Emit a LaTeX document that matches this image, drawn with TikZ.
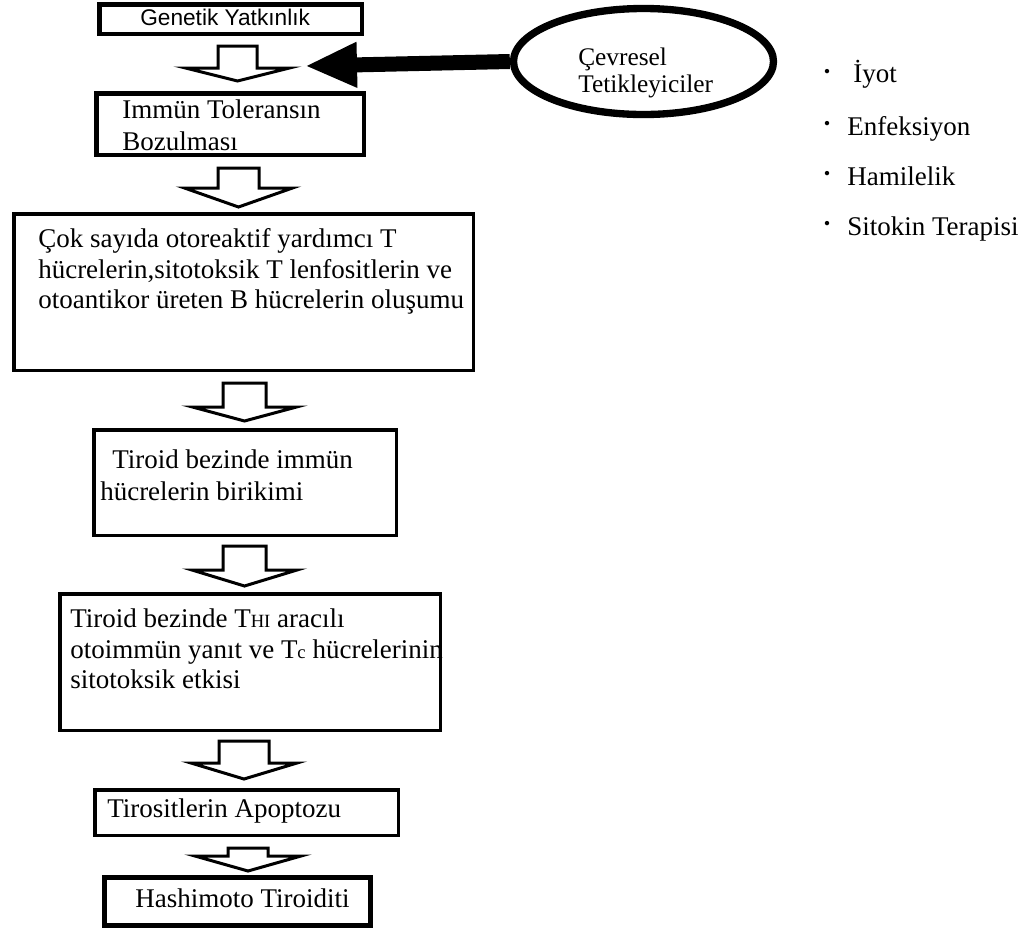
\documentclass[tikz,border=0pt]{standalone}
\usepackage{fontspec}
\setmainfont{Liberation Serif}
\newfontfamily\arialf{Liberation Sans}
\usetikzlibrary{arrows.meta,shapes.geometric,fit}
\newcommand\smc[1]{{\fontsize{14}{16}\selectfont #1}}
\newcommand\hollowarr[6]{%
  \draw[hollow] (#1-#2,#3) -- (#1+#2,#3) -- (#1+#2,#4) -- (#1+#5,#4) -- (#1,#6) -- (#1-#5,#4) -- (#1-#2,#4) -- cycle;}
\begin{document}
\begin{tikzpicture}[x=0.75pt,y=-0.75pt,
  box/.style={draw, line width=2.625pt, inner sep=0pt, fill=white},
  thickbox/.style={box, line width=3.375pt},
  txt/.style={anchor=base west, inner sep=0pt, font=\fontsize{20.25}{24}\selectfont},
  elltxt/.style={anchor=base west, inner sep=0pt, font=\fontsize{19}{23}\selectfont},
  sanstxt/.style={anchor=base west, inner sep=0pt, font=\arialf\fontsize{17}{20}\selectfont},
  dotst/.style={anchor=base, inner sep=0pt, font=\bfseries\fontsize{20.25}{24}\selectfont},
  hollow/.style={draw, fill=white, line width=2.25pt, line join=miter},
  ell/.style={ellipse, draw, line width=5.5pt, minimum width=195pt, minimum height=79.5pt, inner sep=0pt},
  bigarrow/.style={line width=11.25pt, -{Triangle[length=39pt,width=31.5pt]}}
]
\fill[white] (0,0) rectangle (1024,933);
\useasboundingbox (0,0) rectangle (1024,933);

% boxes
\node[thickbox, fit={(99.25,4.25) (361.75,33.75)}] (b1) {};
\node[thickbox, fit={(96.25,93.25) (363.75,154.75)}] (b2) {};
\node[box, fit={(13.75,213.75) (473.25,370.25)}] (b3) {};
\node[box, fit={(93.75,429.75) (396.25,535.25)}] (b4) {};
\node[box, fit={(59.75,593.75) (440.25,730.25)}] (b5) {};
\node[box, fit={(94.75,789.75) (398.25,835.25)}] (b6) {};
\node[box, line width=3.75pt, fit={(104.5,877.5) (370.5,925.5)}] (b7) {};

% texts in boxes
\node[sanstxt] (t1) at (140,25) {Genetik Yatkınlık};
\node[txt] (t2a) at (122,118) {Immün Toleransın};
\node[txt] (t2b) at (122,150) {Bozulması};
\node[txt] (t3a) at (38,247) {Çok sayıda otoreaktif yardımcı T};
\node[txt] (t3b) at (38,278) {hücrelerin,sitotoksik T lenfositlerin ve};
\node[txt] (t3c) at (38,308) {otoantikor üreten B hücrelerin oluşumu};
\node[txt] (t4a) at (112,468) {Tiroid bezinde immün};
\node[txt] (t4b) at (100,500) {hücrelerin birikimi};
\node[txt] (t5a) at (70,627) {Tiroid bezinde T\smc{HI} aracılı};
\node[txt] (t5b) at (70,658) {otoimmün yanıt ve T\smc{c} hücrelerinin};
\node[txt] (t5c) at (70,688) {sitotoksik etkisi};
\node[txt] (t6) at (107,817) {Tirositlerin Apoptozu};
\node[txt] (t7) at (135,907) {Hashimoto Tiroiditi};

% hollow block arrows between boxes
\hollowarr{237.5}{19.5}{46}{68}{52}{81}
\hollowarr{238.5}{20.5}{168}{188}{54}{207}
\hollowarr{244.5}{21.5}{383}{407}{52}{421}
\hollowarr{244.5}{21.5}{546}{570}{52.5}{586}
\hollowarr{244}{25}{741}{763}{53}{779}
\hollowarr{248}{20}{848}{856}{53}{871}

% ellipse and black arrow
\node[ell] (env) at (643.5,61.5) {};
\node[elltxt] (e1) at (578,65) {Çevresel};
\node[elltxt] (e2) at (578,92) {Tetikleyiciler};
\coordinate (tgt) at (305,66);
\draw[bigarrow] (env.west) -- (tgt);

% list of triggers
\node[dotst] (d1) at (827,80) {·};
\node[dotst] (d2) at (827,132) {·};
\node[dotst] (d3) at (827,182) {·};
\node[dotst] (d4) at (827,232) {·};
\node[txt] (l1) at (853,82) {İyot};
\node[txt] (l2) at (847,135) {Enfeksiyon};
\node[txt] (l3) at (847,185) {Hamilelik};
\node[txt] (l4) at (847,235) {Sitokin Terapisi};
\end{tikzpicture}
\end{document}
